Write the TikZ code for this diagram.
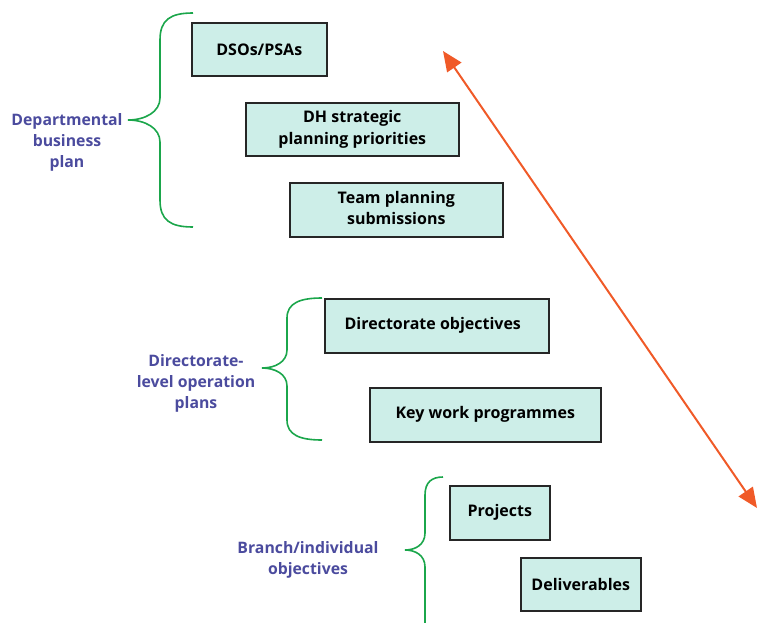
\documentclass[tikz,border=0pt]{standalone}
\usepackage{fontspec}
\setmainfont{Open Sans}
\usetikzlibrary{arrows.meta}
\definecolor{boxfill}{HTML}{CDEEE8}
\definecolor{bracegreen}{HTML}{1BA64B}
\definecolor{labelblue}{HTML}{4B4B9E}
\definecolor{arrowred}{HTML}{F05A28}
\tikzset{
  stepbox/.style={draw=black!85, line width=1.6pt, fill=boxfill, font=\bfseries\fontsize{16}{21}\selectfont, align=center, inner sep=0pt},
  bracepath/.style={draw=bracegreen, line width=1.6pt},
  grouplabel/.style={text=labelblue, font=\bfseries\fontsize{15.8}{21}\selectfont, align=center},
}
\begin{document}
\begin{tikzpicture}[x=1pt,y=-1pt]
\useasboundingbox (0,0) rectangle (757,623);
% boxes
\node[stepbox, minimum width=135pt, minimum height=53pt, anchor=north west] (dso) at (191,22) {DSOs/PSAs};
\node[stepbox, minimum width=213pt, minimum height=53pt, anchor=north west] (dh) at (245,102) {\raisebox{-3pt}{\begin{tabular}{@{}c@{}}DH strategic\\planning priorities\end{tabular}}};
\node[stepbox, minimum width=213pt, minimum height=54pt, anchor=north west] (team) at (289,182) {\raisebox{-3pt}{\begin{tabular}{@{}c@{}}Team planning\\submissions\end{tabular}}};
\node[stepbox, minimum width=224pt, minimum height=54pt, anchor=north west] (dir) at (324,298) {Directorate objectives\hspace*{8pt}};
\node[stepbox, minimum width=231pt, minimum height=54pt, anchor=north west] (key) at (369,387) {Key work programmes};
\node[stepbox, minimum width=100pt, minimum height=54pt, anchor=north west] (proj) at (449,485) {Projects};
\node[stepbox, minimum width=120pt, minimum height=53pt, anchor=north west] (del) at (520,557) {Deliverables};
% labels
\node[grouplabel] (l1) at (67,142) {Departmental\\business\\plan};
\node[grouplabel] (l2) at (196,383) {Directorate-\\level operation\\plans};
\node[grouplabel] (l3) at (308,560) {Branch/individual\\objectives};
% braces
\coordinate (b1tip) at (128,120);
\coordinate (b2tip) at (262,368);
\coordinate (b3tip) at (405,550);
\draw[bracepath] (193,13) .. controls (170,13) and (160,20) .. (160,40)
  -- (160,98) .. controls (160,112) and (145,120) .. (b1tip)
  .. controls (145,120) and (160,128) .. (160,142)
  -- (160,200) .. controls (160,220) and (170,227) .. (193,227);
\draw[bracepath] (322,298) .. controls (300,298) and (287,303) .. (287,318)
  -- (287,350) .. controls (287,362) and (275,368) .. (b2tip)
  .. controls (275,368) and (287,374) .. (287,386)
  -- (287,420) .. controls (287,435) and (300,440) .. (322,440);
\draw[bracepath] (443,477) .. controls (432,477) and (425,482) .. (425,495)
  -- (425,533) .. controls (425,545) and (415,550) .. (b3tip)
  .. controls (415,550) and (425,555) .. (425,567)
  -- (425,623);
% arrow
\coordinate (atop) at (443,51);
\coordinate (abot) at (757,508);
\draw[arrowred, line width=2pt, {Triangle[length=20pt,width=17pt]}-{Triangle[length=20pt,width=17pt]}] (atop) -- (abot);
\end{tikzpicture}
\end{document}
